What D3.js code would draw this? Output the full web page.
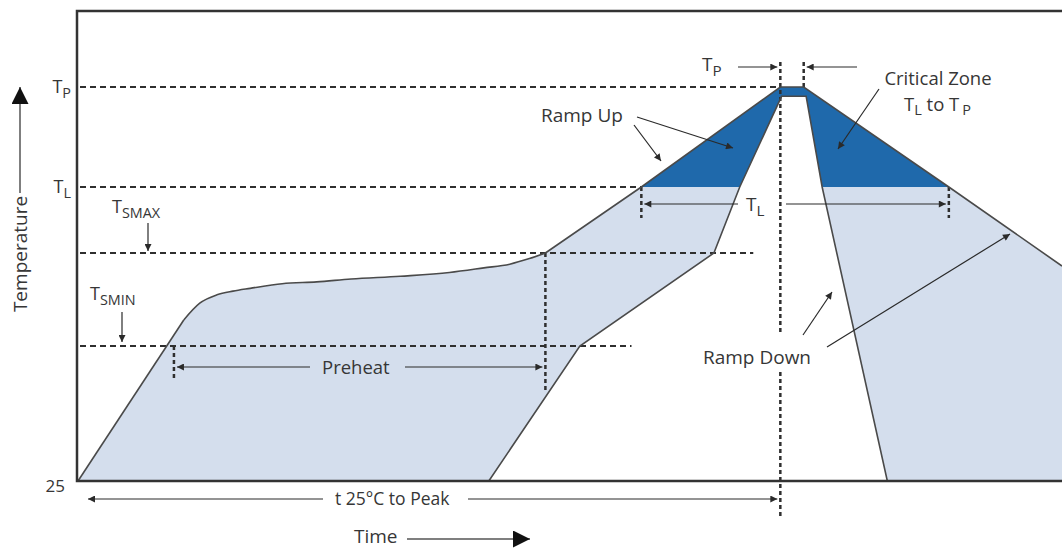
<!DOCTYPE html>
<html>
<head>
<meta charset="utf-8">
<script src="https://cdn.jsdelivr.net/npm/d3@7"></script>
<style>
  body { margin: 0; background: #fff; }
  text { font-family: "Open Sans", sans-serif; fill: #363636; }
</style>
</head>
<body>
<svg id="chart" width="1062" height="549"></svg>
<script>
// reflow profile: time (s) / temperature (°C)
const upperTime = [0, 43, 49.5, 56.5, 63, 70, 83, 97, 111, 131, 151, 165, 175.5, 183.5, 190, 229, 285.5, 295, 354, 400];
const upperTemp = [25, 164, 173, 177.5, 179.5, 181, 183.5, 184.5, 186, 187.5, 189.5, 192, 194, 197, 200, 217, 260, 260, 217, 193];
const lowerTime = [167, 204, 258.5, 269, 286, 296, 302.5, 329];
const lowerTemp = [25, 150, 200, 217, 256, 256, 217, 25];

const baseTemp = 25;
const levelNames = ['P', 'L', 'SMAX', 'SMIN'];
const levelTemps = [260, 217, 200, 150];
const levelEnds = [285.5, 229, 274.5, 225]; // where each dashed level line stops
const TL = 217;

const svg = d3.select('#chart');
const x = d3.scaleLinear().domain([0, 400]).range([78, 1062]);
// schematic, so the temperature axis is piecewise
const y = d3.scaleLinear().domain([25, 150, 200, 217, 260, 293]).range([481, 346, 253, 187, 87, 11]);

const upper = upperTime.map((t, i) => [t, upperTemp[i]]);
const lower = lowerTime.map((t, i) => [t, lowerTemp[i]]);
const line = d3.line().x(d => x(d[0])).y(d => y(d[1]));
const smooth = d3.line().x(d => x(d[0])).y(d => y(d[1])).curve(d3.curveMonotoneX);

const defs = svg.append('defs');
function marker(id, w, h, color) {
  defs.append('marker').attr('id', id)
    .attr('viewBox', '0 0 10 10').attr('refX', 10).attr('refY', 5)
    .attr('markerWidth', w).attr('markerHeight', h)
    .attr('markerUnits', 'userSpaceOnUse').attr('orient', 'auto')
    .append('path').attr('d', 'M0,0L10,5L0,10Z').attr('fill', color);
}
marker('ah', 10, 7, '#2a2a2a');
marker('big', 19, 17, '#111');

// light zone between the max and min profile
const lightPts = upper.concat([[400, baseTemp]], lower.slice().reverse());
svg.append('path').attr('d', line(lightPts) + 'Z').attr('fill', '#d4deed');

// critical zone above TL
const darkPts = upper.filter(d => d[1] >= TL && d[0] > 200)
  .concat(lower.filter(d => d[1] >= TL && d[0] > 200).reverse());
svg.append('path').attr('d', line(darkPts) + 'Z').attr('fill', '#1f69ab');

// dashed level lines
svg.selectAll('.level').data(levelTemps).enter().append('line')
  .attr('x1', x(0) + 2).attr('x2', (d, i) => x(levelEnds[i]))
  .attr('y1', d => y(d)).attr('y2', d => y(d))
  .attr('stroke', '#2f2f2f').attr('stroke-width', 2).attr('stroke-dasharray', '6,4');

// dotted vertical markers
function vmark(t, y1, y2) {
  svg.append('line').attr('x1', x(t)).attr('x2', x(t)).attr('y1', y1).attr('y2', y2)
    .attr('stroke', '#2f2f2f').attr('stroke-width', 2.5).attr('stroke-dasharray', '4,3');
}
vmark(39, y(150), 380);
vmark(190, y(200), 392);
vmark(229, y(217), 218);
vmark(354, y(217), 218);
vmark(285.5, 62, 332);
vmark(285.5, 372, 516);
vmark(295, 62, y(260));

// profile outlines (soak part drawn smooth)
const outline = { fill: 'none', stroke: '#4a4a4a', 'stroke-width': 1.6 };
function stroke(sel) { Object.keys(outline).forEach(k => sel.attr(k, outline[k])); }
svg.append('path').attr('d', line(upper.slice(0, 2))).call(stroke);
svg.append('path').attr('d', smooth(upper.slice(1, 15))).call(stroke);
svg.append('path').attr('d', line(upper.slice(14))).call(stroke);
svg.append('path').attr('d', line(lower)).call(stroke);

// frame
svg.append('path')
  .attr('d', `M${x(400)},${y(293)}H${x(0) - 1}V${y(baseTemp)}H${x(400)}`)
  .attr('fill', 'none').attr('stroke', '#333').attr('stroke-width', 2.5);

// labels with subscript
function sublabel(xp, yp, main, sub, size, anchor) {
  const t = svg.append('text').attr('x', xp).attr('y', yp).attr('font-size', size || 19)
    .attr('text-anchor', anchor || 'start');
  t.append('tspan').text(main);
  t.append('tspan').attr('font-size', (size || 19) * 0.8).attr('dy', 5).text(sub);
  return t;
}
sublabel(71, y(260) + 6, 'T', levelNames[0], 18, 'end');
sublabel(71, y(217) + 6, 'T', levelNames[1], 18, 'end');
svg.append('text').attr('x', 65).attr('y', y(baseTemp) + 11).attr('font-size', 17)
  .attr('text-anchor', 'end').text(baseTemp);
sublabel(112, 213, 'T', levelNames[2], 18);
sublabel(90, 300, 'T', levelNames[3], 18);

function arrow(x1, y1, x2, y2, m, w, c) {
  svg.append('line').attr('x1', x1).attr('y1', y1).attr('x2', x2).attr('y2', y2)
    .attr('stroke', c || '#2a2a2a').attr('stroke-width', w || 1.2)
    .attr('marker-end', 'url(#' + (m || 'ah') + ')');
}
arrow(148, 223, 148, 251);
arrow(122, 312, 122, 342);

// Tp width
sublabel(702, 71, 'T', 'P');
arrow(738, 67, x(285.5) - 3, 67);
arrow(857, 67, x(295) + 3, 67);

// TL width
sublabel(746, 211, 'T', 'L');
arrow(738, 204, x(229) + 3, 204);
arrow(786, 204, x(354) - 3, 204);

// preheat
svg.append('text').attr('x', 322).attr('y', 374).attr('font-size', 18.5).text('Preheat');
arrow(310, 367, x(39) + 3, 367);
arrow(405, 367, x(190) - 3, 367);

// t 25C to peak
svg.append('text').attr('x', 335).attr('y', 505).attr('font-size', 17.5).text('t 25°C to Peak');
arrow(323, 499, 88, 499);
arrow(468, 499, x(285.5) - 3, 499);

// callouts
svg.append('text').attr('x', 541).attr('y', 122).attr('font-size', 19).text('Ramp Up');
arrow(637, 117, 733, 148);
arrow(634, 125, 661, 161);

svg.append('text').attr('x', 938).attr('y', 85).attr('font-size', 18.5).attr('text-anchor', 'middle').text('Critical Zone');
const tz = svg.append('text').attr('x', 904).attr('y', 111).attr('font-size', 18.5);
tz.append('tspan').text('T');
tz.append('tspan').attr('font-size', 14.5).attr('dy', 4).text('L');
tz.append('tspan').attr('dy', -4).text(' to T');
tz.append('tspan').attr('font-size', 14.5).attr('dy', 4).attr('dx', 3).text('P');
arrow(879, 89, 838, 149);

svg.append('text').attr('x', 703).attr('y', 364).attr('font-size', 19).text('Ramp Down');
arrow(803, 335, 832, 292);
arrow(827, 347, 1010, 234);

// axis titles
svg.append('text').attr('transform', 'translate(27,254) rotate(-90)')
  .attr('text-anchor', 'middle').attr('font-size', 19).text('Temperature');
arrow(20, 193, 20, 87, 'big', 1.5, '#555');
svg.append('text').attr('x', 354).attr('y', 543).attr('font-size', 19).text('Time');
arrow(407, 539, 530, 539, 'big', 1.5, '#555');
</script>
</body>
</html>
